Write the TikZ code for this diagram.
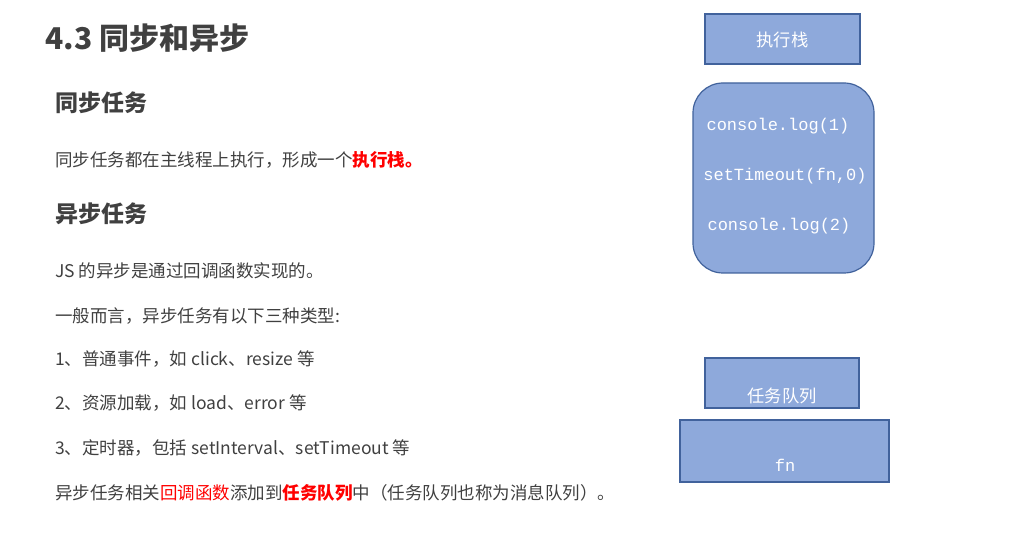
\documentclass[tikz,border=0pt]{standalone}
\usepackage{fontspec}
\setmainfont{Noto Sans CJK SC}
\newfontfamily\mono{Liberation Mono}
\begin{document}
\begin{tikzpicture}[x=1pt,y=-1pt,
 box/.style={draw={rgb,255:red,65;green,98;blue,156}, line width=1.2pt, fill={rgb,255:red,142;green,169;blue,219}, text=white},
 txt/.style={anchor=west, text={rgb,255:red,64;green,64;blue,64}, font=\fontsize{17.5}{20}\selectfont, inner sep=0},
 hd/.style={anchor=west, text={rgb,255:red,64;green,64;blue,64}, font=\bfseries\fontsize{23}{26}\selectfont, inner sep=0},
 lbl/.style={text=white, font=\fontsize{17.3}{20}\selectfont, inner sep=0},
 code/.style={text=white, font=\mono\fontsize{17}{19}\selectfont, inner sep=0}]
\useasboundingbox (0,0) rectangle (1018,540);
\node[anchor=west, inner sep=0, text={rgb,255:red,64;green,64;blue,64}, font=\bfseries\fontsize{30}{34}\selectfont] (title) at (45,38) {4.3 同步和异步};
\node[hd] (h1) at (55,103) {同步任务};
\node[txt] (l1) at (55,160) {同步任务都在主线程上执行，形成一个\textcolor{red}{\bfseries 执行栈。}};
\node[hd] (h2) at (55,214) {异步任务};
\node[txt] (l2) at (55,271) {JS 的异步是通过回调函数实现的。};
\node[txt] (l3) at (55,316) {一般而言，异步任务有以下三种类型:};
\node[txt] (l4) at (55,359) {1、普通事件，如 click、resize 等};
\node[txt] (l5) at (55,403) {2、资源加载，如 load、error 等};
\node[txt] (l6) at (55,448) {3、定时器，包括 setInterval、setTimeout 等};
\node[txt] (l7) at (55,493) {异步任务相关\textcolor{red}{回调函数}添加到\textcolor{red}{\bfseries 任务队列}中（任务队列也称为消息队列）。};
\draw[box] (705,14) rectangle (860,64);
\node[lbl] (es) at (782.5,40) {执行栈};
\draw[box, rounded corners=30pt] (693,83) rectangle (874,273);
\node[code] (c1) at (778,126) {console.log(1)};
\node[code] (c2) at (785,176) {setTimeout(fn,0)};
\node[code] (c3) at (779,226) {console.log(2)};
\draw[box] (705,358) rectangle (859,408);
\node[lbl] (tq) at (782,396) {任务队列};
\draw[box] (680,420) rectangle (889,482);
\node[code] (fn) at (785,465) {fn};
\end{tikzpicture}
\end{document}
